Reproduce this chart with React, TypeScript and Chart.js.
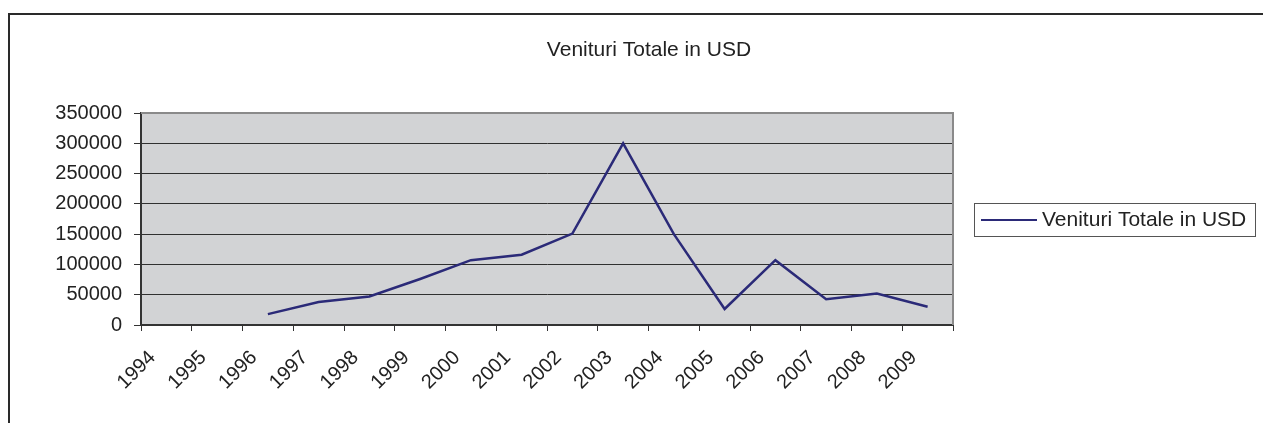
import React, { useEffect, useRef } from "react";
import { Chart, registerables } from "chart.js";

Chart.register(...registerables);

const years = ["1994","1995","1996","1997","1998","1999","2000","2001","2002","2003","2004","2005","2006","2007","2008","2009"];
const venituri = [null, null, 18000, 38000, 47000, 76000, 107000, 116000, 151000, 300000, 150000, 26500, 107000, 42500, 52000, 30000];
const seriesName = "Venituri Totale in USD";
const chartTitle = "Venituri Totale in USD";
const yMax = 350000;
const yStep = 50000;

const FONT = "'Liberation Sans', Arial, sans-serif";
const LINE_COLOR = "#2B2A78";

export default function App() {
  const ref = useRef<HTMLCanvasElement | null>(null);

  useEffect(() => {
    if (!ref.current) return;
    const decor = {
      id: "decor",
      beforeDraw(chart: any) {
        const { ctx, chartArea: a } = chart;
        ctx.save();
        ctx.fillStyle = "#D2D3D5";
        ctx.fillRect(a.left, a.top, a.right - a.left, a.bottom - a.top);
        ctx.restore();
      },
      afterDraw(chart: any) {
        const { ctx, chartArea: a } = chart;
        ctx.save();
        // top and right plot border
        ctx.strokeStyle = "#8A8A8A";
        ctx.lineWidth = 2;
        ctx.beginPath();
        ctx.moveTo(a.left, a.top);
        ctx.lineTo(a.right, a.top);
        ctx.lineTo(a.right, a.bottom);
        ctx.stroke();
        // title
        ctx.fillStyle = "#222";
        ctx.font = "21px " + FONT;
        ctx.textAlign = "center";
        ctx.textBaseline = "middle";
        ctx.fillText(chartTitle, 649, 50);
        // legend
        const lx = 974, ly = 203, lw = 281, lh = 33;
        ctx.fillStyle = "#fff";
        ctx.fillRect(lx, ly, lw, lh);
        ctx.strokeStyle = "#555";
        ctx.lineWidth = 1;
        ctx.strokeRect(lx + 0.5, ly + 0.5, lw, lh);
        const ds = chart.data.datasets[0];
        ctx.strokeStyle = ds.borderColor;
        ctx.lineWidth = 2;
        ctx.beginPath();
        ctx.moveTo(981, ly + lh / 2 + 0.5);
        ctx.lineTo(1037, ly + lh / 2 + 0.5);
        ctx.stroke();
        ctx.fillStyle = "#222";
        ctx.textAlign = "left";
        ctx.fillText(ds.label, 1042, ly + lh / 2 + 1);
        ctx.restore();
      },
    };

    const chart = new Chart(ref.current, {
      type: "line",
      data: {
        labels: years,
        datasets: [
          {
            label: seriesName,
            data: venituri,
            borderColor: LINE_COLOR,
            backgroundColor: LINE_COLOR,
            borderWidth: 2.5,
            pointRadius: 0,
            tension: 0,
            fill: false,
          },
        ],
      },
      options: {
        animation: false,
        responsive: false,
        layout: { padding: { left: 0, top: 113, right: 310, bottom: 0 } },
        plugins: {
          legend: { display: false },
          title: { display: false },
          tooltip: { enabled: false },
        },
        scales: {
          x: {
            type: "category",
            offset: true,
            grid: {
              offset: true,
              drawOnChartArea: false,
              tickLength: 6,
              tickColor: "#333",
              lineWidth: 1,
            },
            border: { color: "#333", width: 2 },
            ticks: {
              autoSkip: false,
              maxRotation: 45,
              minRotation: 45,
              padding: 15,
              labelOffset: -14,
              color: "#222",
              font: { family: FONT, size: 20 },
            },
            afterFit(scale: any) {
              scale.height = 98;
            },
          },
          y: {
            min: 0,
            max: yMax,
            ticks: {
              stepSize: yStep,
              padding: 12,
              color: "#222",
              font: { family: FONT, size: 20 },
              callback: (v: any) => String(v),
            },
            grid: {
              color: "#303030",
              lineWidth: 1,
              tickLength: 7,
              tickColor: "#333",
            },
            border: { color: "#333", width: 2 },
            afterFit(scale: any) {
              scale.width = 141;
            },
          },
        },
      },
      plugins: [decor],
    });
    return () => chart.destroy();
  }, []);

  return (
    <div style={{ position: "fixed", left: 0, top: 0, width: 1263, height: 423, overflow: "hidden", background: "#fff" }}>
      <canvas ref={ref} width={1263} height={423} style={{ position: "absolute", left: 0, top: 0, width: 1263, height: 423 }} />
      <div
        style={{
          position: "absolute",
          left: 8,
          top: 13,
          width: 1255,
          height: 430,
          borderLeft: "2px solid #2a2a2a",
          borderTop: "2px solid #2a2a2a",
          boxSizing: "border-box",
          pointerEvents: "none",
        }}
      />
    </div>
  );
}
